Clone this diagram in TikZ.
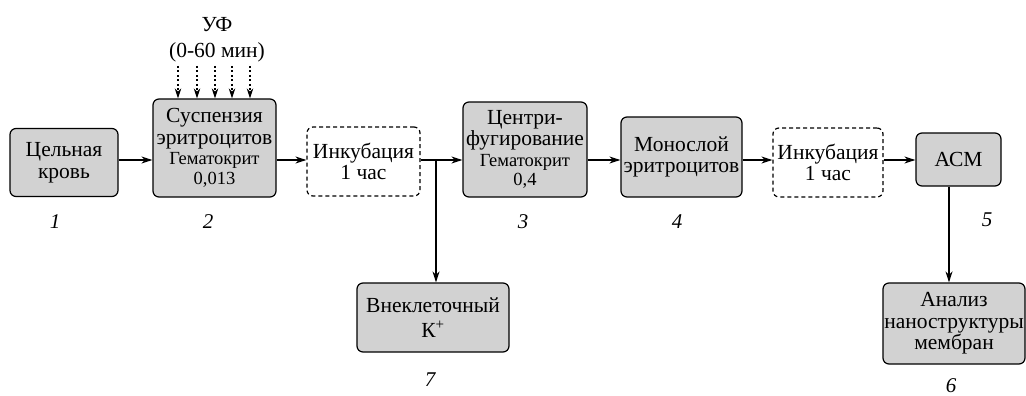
\documentclass[tikz,border=0pt]{standalone}
\usepackage{fontspec}
\setmainfont{Liberation Serif}
\usetikzlibrary{arrows.meta,calc}
\begin{document}
\begin{tikzpicture}[x=1pt,y=1pt,
  box/.style={draw=black,line width=1.2pt,rounded corners=6pt,fill=gray!35,inner sep=0pt,align=center,font=\fontsize{21.5}{21.5}\selectfont},
  dbox/.style={draw=black,line width=1.2pt,rounded corners=6pt,dash pattern=on 4pt off 3pt,inner sep=0pt,align=center,font=\fontsize{21.5}{21.5}\selectfont},
  arr/.style={line width=1.2pt,-{Stealth[length=11pt,width=7pt]}},
  darr/.style={line width=1.2pt,dash pattern=on 2pt off 2.5pt,-{Stealth[length=10pt,width=6.5pt]}},
  num/.style={font=\fontsize{21}{22}\selectfont\itshape,inner sep=0pt},
  lbl/.style={font=\fontsize{21.5}{22}\selectfont,inner sep=0pt}]
\useasboundingbox (0,0) rectangle (1026,-396);
\newcommand{\smalltxt}{\fontsize{18.5}{18.5}\selectfont}
\node[box,minimum width=108pt,minimum height=68pt] (b1) at (64,-162.5) {Цельная\\кровь};
\node[box,minimum width=123pt,minimum height=98pt] (b2) at (214.5,-148) {Суспензия\\эритроцитов\\[-1pt]{\smalltxt Гематокрит}\\[-2pt]{\smalltxt 0,013}};
\node[dbox,minimum width=113pt,minimum height=69pt] (i1) at (363.5,-161.5) {Инкубация\\1 час};
\node[box,minimum width=124pt,minimum height=95pt] (b3) at (525,-149.5) {Центри-\\фугирование\\[-1pt]{\smalltxt Гематокрит}\\[-2pt]{\smalltxt 0,4}};
\node[box,minimum width=121pt,minimum height=80pt] (b4) at (681.5,-157) {Монослой\\эритроцитов};
\node[dbox,minimum width=110pt,minimum height=69pt] (i2) at (828,-162.5) {Инкубация\\1 час};
\node[box,minimum width=85pt,minimum height=53pt] (b5) at (958.5,-159.5) {АСМ};
\node[box,minimum width=152pt,minimum height=69pt] (b7) at (433,-317.5) {Внеклеточный\\[3pt]К\textsuperscript{+}};
\node[box,minimum width=142pt,minimum height=81pt] (b6) at (954,-323.5) {Анализ\\наноструктуры\\мембран};

\coordinate (ml) at (0,-160);
\draw[arr] (b1.east |- ml) -- (b2.west |- ml);
\draw[arr] (b2.east |- ml) -- (i1.west |- ml);
\draw[arr] (i1.east |- ml) -- (b3.west |- ml);
\draw[arr] (b3.east |- ml) -- (b4.west |- ml);
\draw[arr] (b4.east |- ml) -- (i2.west |- ml);
\draw[arr] (i2.east |- ml) -- (b5.west |- ml);
\coordinate (br) at (436,-160);
\draw[arr] (br) -- (br |- b7.north);
\coordinate (ad) at (949,-160);
\draw[arr] (ad |- b5.south) -- (ad |- b6.north);

\node[lbl] (uf) at (217,-25) {УФ};
\node[lbl] (uft) at (217,-52) {(0-60 мин)};
\foreach \x [count=\i] in {178,197,215,232,250}{
  \coordinate (d\i) at (\x,-66);
  \draw[darr] (d\i) -- (d\i |- b2.north);
}
\node[num] (n1) at (55,-222) {1};
\node[num] (n2) at (208,-222) {2};
\node[num] (n3) at (523,-222) {3};
\node[num] (n4) at (677,-222) {4};
\node[num] (n5) at (987,-220) {5};
\node[num] (n7) at (430,-380) {7};
\node[num] (n6) at (951,-386) {6};
\end{tikzpicture}
\end{document}
